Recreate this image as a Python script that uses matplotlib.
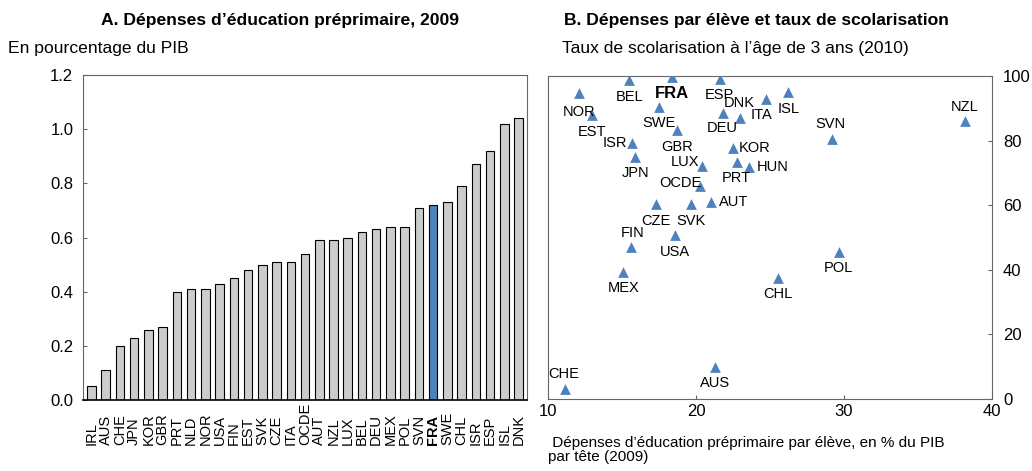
import matplotlib
matplotlib.use("Agg")
import matplotlib.pyplot as plt
import matplotlib.transforms as mtransforms

plt.rcParams['font.family'] = ['Liberation Sans', 'DejaVu Sans']

# ---- Panel A data ----
bar_countries = ["IRL", "AUS", "CHE", "JPN", "KOR", "GBR", "PRT", "NLD", "NOR", "USA",
                 "FIN", "EST", "SVK", "CZE", "ITA", "OCDE", "AUT", "NZL", "LUX", "BEL",
                 "DEU", "MEX", "POL", "SVN", "FRA", "SWE", "CHL", "ISR", "ESP", "ISL", "DNK"]
bar_values = [0.05, 0.11, 0.20, 0.23, 0.26, 0.27, 0.40, 0.41, 0.41, 0.43,
              0.45, 0.48, 0.50, 0.51, 0.51, 0.54, 0.59, 0.59, 0.60, 0.62,
              0.63, 0.64, 0.64, 0.71, 0.72, 0.73, 0.79, 0.87, 0.92, 1.02, 1.04]
a_yticks = [0.0, 0.2, 0.4, 0.6, 0.8, 1.0, 1.2]

# ---- Panel B data ----
sc_countries = ["NOR", "BEL", "FRA", "ESP", "EST", "SWE", "DEU", "DNK", "ITA", "ISL",
                "SVN", "NZL", "GBR", "ISR", "JPN", "KOR", "LUX", "PRT", "HUN", "OCDE",
                "AUT", "CZE", "SVK", "FIN", "USA", "MEX", "CHL", "CHE", "AUS", "POL"]
sc_x = [12.1, 15.5, 18.4, 21.6, 12.95, 17.5, 21.8, 23.0, 24.7, 26.2,
        29.2, 38.15, 18.7, 15.7, 15.9, 22.5, 20.4, 22.75, 23.55, 20.3,
        21.0, 17.3, 19.65, 15.6, 18.55, 15.1, 25.55, 11.15, 21.3, 29.65]
sc_y = [94.6, 98.8, 99.6, 99.0, 87.9, 90.5, 88.6, 86.9, 92.8, 95.1,
        80.5, 86.2, 83.3, 79.4, 75.0, 77.6, 72.1, 73.5, 71.9, 65.9,
        61.1, 60.3, 60.3, 47.0, 50.8, 39.4, 37.6, 3.0, 10.0, 45.6]

# label placement (style): offset in points and alignment
label_pos = {
    "NOR": (0, -13, 'center'), "BEL": (0, -12, 'center'), "FRA": (0, -12, 'center'),
    "ESP": (0, -11, 'center'), "EST": (0, -12, 'center'), "SWE": (0, -12, 'center'),
    "DEU": (0, -11, 'center'), "DNK": (-1, 11, 'center'), "ITA": (-3, -11, 'center'),
    "ISL": (1, -12, 'center'), "SVN": (-1, 11, 'center'), "NZL": (0, 10, 'center'),
    "GBR": (0, -12, 'center'), "ISR": (-4, 0, 'right'), "JPN": (0, -12, 'center'),
    "KOR": (4, 0, 'left'), "LUX": (-2, 3, 'right'), "PRT": (0, -12, 'center'),
    "HUN": (6, 0, 'left'), "OCDE": (1, 2, 'right'), "AUT": (6, 0, 'left'),
    "CZE": (0, -12, 'center'), "SVK": (0, -12, 'center'), "FIN": (1, 10, 'center'),
    "USA": (0, -12, 'center'), "MEX": (0, -12, 'center'), "CHL": (0, -12, 'center'),
    "CHE": (-1, 11, 'center'), "AUS": (0, -12, 'center'), "POL": (0, -12, 'center'),
}

gray = "#CCCCCC"
blue = "#4F81BD"
spine_col = "#666666"

fig = plt.figure(figsize=(10.32, 4.71), dpi=100)

# ---------------- Panel A ----------------
axA = fig.add_axes([0.0804, 0.1507, 0.4303, 0.6901])
colors = [blue if c == "FRA" else gray for c in bar_countries]
xpos = list(range(len(bar_countries)))
axA.bar(xpos, bar_values, width=0.6, color=colors, edgecolor="black", linewidth=0.8)
axA.set_xlim(-0.6, len(bar_countries) - 0.4)
axA.set_ylim(0, 1.2)
axA.set_yticks(a_yticks)
axA.set_yticklabels([f"{v:.1f}" for v in a_yticks])
axA.tick_params(axis='y', direction='in', length=3, labelsize=12, pad=7, color=spine_col)
axA.set_xticks([])
for s in ["left", "top", "right"]:
    axA.spines[s].set_color(spine_col)
axA.spines["bottom"].set_color("black")
axA.spines["bottom"].set_linewidth(1.2)
trans = mtransforms.blended_transform_factory(axA.transData, axA.transAxes)
for x, c in zip(xpos, bar_countries):
    axA.text(x, -0.138, c, rotation=90, ha='center', va='bottom', fontsize=10.5,
             fontweight='bold' if c == "FRA" else 'normal', transform=trans)

fig.text(280 / 1032, 1 - 20 / 471, "A. Dépenses d’éducation préprimaire, 2009",
         ha='center', va='center', fontsize=12.6, fontweight='bold')
fig.text(8 / 1032, 1 - 48 / 471, "En pourcentage du PIB", ha='left', va='center', fontsize=12.6)

# ---------------- Panel B ----------------
axB = fig.add_axes([0.531, 0.1529, 0.4302, 0.6857])
axB.scatter(sc_x, sc_y, marker='^', s=60, color=blue, zorder=3, linewidths=0)
for c, x, y in zip(sc_countries, sc_x, sc_y):
    dx, dy, ha = label_pos[c]
    bold = c == "FRA"
    axB.annotate(c, (x, y), xytext=(dx, dy), textcoords='offset points',
                 ha=ha, va='center', fontsize=12 if bold else 10.5,
                 fontweight='bold' if bold else 'normal')
axB.set_xlim(10, 40)
axB.set_ylim(0, 100)
axB.set_xticks([10, 20, 30, 40])
axB.set_yticks([0, 20, 40, 60, 80, 100])
axB.yaxis.tick_right()
axB.tick_params(axis='both', direction='in', length=3, labelsize=12, color=spine_col)
axB.tick_params(axis='y', pad=8)
for s in axB.spines.values():
    s.set_color(spine_col)

fig.text(756 / 1032, 1 - 20 / 471, "B. Dépenses par élève et taux de scolarisation",
         ha='center', va='center', fontsize=12.6, fontweight='bold')
fig.text(562 / 1032, 1 - 48 / 471, "Taux de scolarisation à l’âge de 3 ans (2010)",
         ha='left', va='center', fontsize=12.6)
fig.text(548 / 1032, 1 - 450 / 471,
         " Dépenses d’éducation préprimaire par élève, en % du PIB\npar tête (2009)",
         ha='left', va='center', fontsize=11.0, linespacing=0.95)

fig.savefig("out.png", dpi=100)
